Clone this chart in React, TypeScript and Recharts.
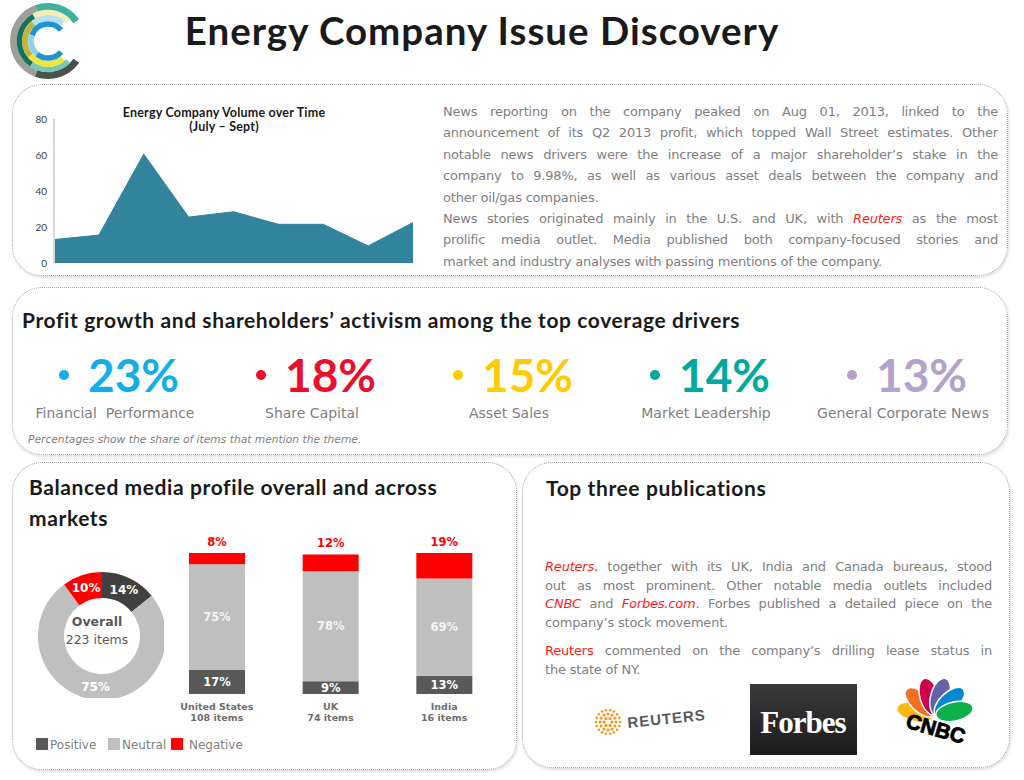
import { Area, AreaChart, Bar, BarChart, Cell, LabelList, Pie, PieChart, XAxis, YAxis } from 'recharts';

// volume over time, July - Sept (x labels are not printed on the original)
const volumePeriods = ['P1', 'P2', 'P3', 'P4', 'P5', 'P6', 'P7', 'P8', 'P9'];
const volumeValues = [13, 15.5, 60.5, 25.5, 28.5, 21.5, 21.5, 9.5, 22.5];
const volumeTicks = [0, 20, 40, 60, 80];

// top coverage drivers
const themeNames = ['Financial  Performance', 'Share Capital', 'Asset Sales', 'Market Leadership', 'General Corporate News'];
const themeShares = [23, 18, 15, 14, 13];
const themeColors = ['#12aee8', '#ea0f2b', '#ffcb05', '#00a99d', '#b3a2c9'];

// sentiment
const sentimentNames = ['Positive', 'Neutral', 'Negative'];
const sentimentColors = ['#404040', '#bfbfbf', '#ff0000'];
const overallShares = [14, 75, 10];
const overallItems = 223;
const markets = ['United States', 'UK', 'India'];
const marketItems = [108, 74, 16];
const positiveShares = [17, 9, 13];
const neutralShares = [75, 78, 69];
const negativeShares = [8, 12, 19];

const volumeData = volumePeriods.map((p, i) => ({ period: p, volume: volumeValues[i] }));
const overallData = sentimentNames.map((n, i) => ({ name: n, value: overallShares[i] }));
const marketData = markets.map((m, i) => ({
  market: m,
  positive: positiveShares[i],
  neutral: neutralShares[i],
  negative: negativeShares[i],
}));

const SANS = 'Verdana, "DejaVu Sans", sans-serif';
const GILL = 'Lato, "Open Sans", sans-serif';
const GREY = '#7f7f7f';
const RADIAN = Math.PI / 180;

const panel = (left: number, top: number, width: number, height: number) => ({
  position: 'absolute' as const,
  left,
  top,
  width,
  height,
  boxSizing: 'border-box' as const,
  border: '1px dotted #a6a6a6',
  borderRadius: 30,
  boxShadow: '1px 2px 3px rgba(0,0,0,0.12)',
});

// little helper for the logo rings
const arc = (cx: number, cy: number, r: number, a0: number, a1: number) => {
  const p = (a: number) => [cx + r * Math.cos(a * RADIAN), cy - r * Math.sin(a * RADIAN)];
  const [x0, y0] = p(a0);
  const [x1, y1] = p(a1);
  return `M${x0} ${y0} A${r} ${r} 0 ${a1 - a0 > 180 ? 1 : 0} 0 ${x1} ${y1}`;
};

const logoRings: [number, number, [number, number, string][]][] = [
  [34.5, 7, [[35, 110, '#3db0a2'], [110, 250, '#9e9f98'], [250, 325, '#46544a']]],
  [28.5, 5.5, [[45, 120, '#f3eeb3'], [120, 235, '#14705f'], [235, 315, '#74c7be']]],
  [23, 6, [[50, 130, '#b8e0ef'], [130, 220, '#c1b43c'], [220, 310, '#f1e43d']]],
  [17, 5.5, [[40, 160, '#1e94d2'], [160, 230, '#8fd0ec'], [230, 320, '#1e94d2']]],
];

const feathers = [
  [-78, '#fcb711'],
  [-47, '#f37021'],
  [-16, '#cc004c'],
  [15, '#6460aa'],
  [46, '#0089d0'],
  [77, '#0db14b'],
] as const;

function Line({ children, last = false }: { children: any; last?: boolean }) {
  return (
    <div style={{ textAlign: 'justify', textAlignLast: last ? 'left' : 'justify' }}>{children}</div>
  );
}

const red = (t: string, italic = true) => (
  <span style={{ color: '#ff1a1a', fontStyle: italic ? 'italic' : 'normal' }}>{t}</span>
);

const DonutLabel = (props: any) => {
  const { cx, cy, midAngle, innerRadius, outerRadius, value } = props;
  const r = (innerRadius + outerRadius) / 2;
  const x = cx + r * Math.cos(-midAngle * RADIAN);
  const y = cy + r * Math.sin(-midAngle * RADIAN);
  return (
    <text x={x} y={y + 4} textAnchor="middle" fill="#fff" fontFamily={SANS} fontWeight="bold" fontSize={12}>
      {`${value}%`}
    </text>
  );
};

const insideLabel = (color: string) => (p: any) => (
  <text
    x={p.x + p.width / 2}
    y={p.y + p.height / 2 + 4}
    textAnchor="middle"
    fill={color}
    fontFamily={SANS}
    fontWeight="bold"
    fontSize={11.5}
  >
    {`${p.value}%`}
  </text>
);

const topLabel = (p: any) => (
  <text x={p.x + p.width / 2} y={p.y - 7} textAnchor="middle" fill="#ff0000" fontFamily={SANS} fontWeight="bold" fontSize={11.5}>
    {`${p.value}%`}
  </text>
);

const MarketTick = (props: any) => {
  const { x, y, payload } = props;
  const i = markets.indexOf(payload.value);
  return (
    <text x={x} y={y} textAnchor="middle" fill="#6d6d6d" fontFamily={SANS} fontWeight="bold" fontSize={9.5}>
      <tspan x={x} dy={16}>{payload.value}</tspan>
      <tspan x={x} dy={11}>{`${marketItems[i]} items`}</tspan>
    </text>
  );
};

export default function App() {
  return (
    <div style={{ position: 'absolute', left: 0, top: 0, width: 1024, height: 780, background: '#fff', overflow: 'hidden' }}>
      <div style={panel(12, 84, 996, 192)} />
      <div style={panel(12, 287, 996, 168)} />
      <div style={panel(12, 462, 505, 308)} />
      <div style={panel(522, 462, 488, 306)} />

      {/* decoration + headings */}
      <svg width={1024} height={780} style={{ position: 'absolute', left: 0, top: 0 }}>
        {logoRings.map(([r, w, segs], k) =>
          segs.map(([a0, a1, c], j) => (
            <path key={`${k}-${j}`} d={arc(48, 41, r, a0, a1)} stroke={c} strokeWidth={w} fill="none" />
          ))
        )}
        <text x={482} y={45} textAnchor="middle" fontFamily={GILL} fontWeight="bold" fontSize={38.5} letterSpacing={1} fill="#1a1a1a">
          Energy Company Issue Discovery
        </text>

        <text x={224} y={117} textAnchor="middle" fontFamily={GILL} fontWeight="bold" fontSize={12.5} letterSpacing={0.2} fill="#1a1a1a">
          Energy Company Volume over Time
        </text>
        <text x={224} y={131} textAnchor="middle" fontFamily={GILL} fontWeight="bold" fontSize={12.5} letterSpacing={0.2} fill="#1a1a1a">
          (July – Sept)
        </text>

        <text x={22} y={328} fontFamily={GILL} fontWeight="bold" fontSize={21} letterSpacing={0.6} fill="#1a1a1a">
          Profit growth and shareholders’ activism among the top coverage drivers
        </text>
        {themeNames.map((n, i) => {
          const c = 115 + 197 * i;
          return (
            <g key={n}>
              <circle cx={c - 51} cy={375} r={5} fill={themeColors[i]} />
              <text x={c - 27} y={392} fontFamily={GILL} fontSize={46} fontWeight="bold" fill={themeColors[i]}>
                {`${themeShares[i]}%`}
              </text>
              <text x={c} y={418} textAnchor="middle" fontFamily={SANS} fontSize={14} fill={GREY} style={{ whiteSpace: 'pre' }}>
                {n}
              </text>
            </g>
          );
        })}
        <text x={28} y={443} fontFamily={SANS} fontStyle="italic" fontSize={10.7} fill={GREY}>
          Percentages show the share of items that mention the theme.
        </text>

        <text x={29} y={495} fontFamily={GILL} fontWeight="bold" fontSize={21} letterSpacing={0.6} fill="#1a1a1a">
          Balanced media profile overall and across
        </text>
        <text x={29} y={526} fontFamily={GILL} fontWeight="bold" fontSize={21} letterSpacing={0.6} fill="#1a1a1a">
          markets
        </text>
        <text x={546} y={496} fontFamily={GILL} fontWeight="bold" fontSize={21} letterSpacing={0.6} fill="#1a1a1a">
          Top three publications
        </text>

        {/* donut centre */}
        <text x={97} y={626} textAnchor="middle" fontFamily={SANS} fontWeight="bold" fontSize={12.5} fill="#595959">
          Overall
        </text>
        <text x={97} y={644} textAnchor="middle" fontFamily={SANS} fontSize={12.5} fill="#595959">
          {`${overallItems} items`}
        </text>

        {/* legend */}
        {sentimentNames.map((n, i) => {
          const x = [36, 108, 171][i];
          return (
            <g key={n}>
              <rect x={x} y={738} width={12} height={12} fill={i === 0 ? '#595959' : sentimentColors[i]} />
              <text x={x + (i === 2 ? 18 : 14)} y={749} fontFamily={SANS} fontSize={12} fill={GREY}>
                {n}
              </text>
            </g>
          );
        })}

        {/* reuters */}
        {[
          [4, 6, 1.6],
          [8, 12, 1.5],
          [12, 18, 1.3],
        ].map(([r, n, d]) =>
          Array.from({ length: n }, (_, k) => (
            <circle
              key={`${r}-${k}`}
              cx={608 + r * Math.cos((k * 360) / n * RADIAN)}
              cy={722 + r * Math.sin((k * 360) / n * RADIAN)}
              r={d}
              fill="#f7941d"
            />
          ))
        )}
        <text x={628} y={728} transform="rotate(-6 628 728)" fontFamily='"Liberation Sans", Arial, sans-serif' fontWeight="bold" fontSize={15} letterSpacing={1} fill="#5a5a5a">
          REUTERS
        </text>

        {/* forbes */}
        <defs>
          <linearGradient id="forbesBg" x1="0" y1="0" x2="0" y2="1">
            <stop offset="0%" stopColor="#3a3a3a" />
            <stop offset="100%" stopColor="#1c1c1c" />
          </linearGradient>
        </defs>
        <rect x={750} y={684} width={107} height={71} fill="url(#forbesBg)" />
        <text x={803} y={733} textAnchor="middle" fontFamily='"Liberation Serif", serif' fontWeight="bold" fontSize={31} letterSpacing={-1} fill="#fff">
          Forbes
        </text>

        {/* cnbc */}
        {feathers.map(([a, c]) => (
          <ellipse key={c} cx={935} cy={696} rx={9.5} ry={19} fill={c} stroke="#fff" strokeWidth={1.5} transform={`rotate(${a} 935 716)`} />
        ))}
        <text x={936} y={736} transform="rotate(16 936 728)" textAnchor="middle" fontFamily='"Liberation Sans", Arial, sans-serif' fontWeight="bold" fontSize={21} fill="#000" stroke="#000" strokeWidth={0.8}>
          CNBC
        </text>
      </svg>

      {/* volume chart */}
      <div style={{ position: 'absolute', left: 14, top: 100 }}>
        <AreaChart width={410} height={170} data={volumeData} margin={{ top: 19, right: 11, bottom: 7, left: 0 }}>
          <XAxis dataKey="period" hide />
          <YAxis
            width={40}
            domain={[0, 80]}
            ticks={volumeTicks}
            axisLine={{ stroke: '#d9d9d9', strokeWidth: 2 }}
            tickLine={false}
            tickSize={0}
            tickMargin={7}
            tick={{ fill: '#404040', fontSize: 10, fontFamily: GILL }}
          />
          <Area type="linear" dataKey="volume" stroke="#31849b" fill="#31849b" fillOpacity={1} isAnimationActive={false} dot={false} activeDot={false} />
        </AreaChart>
      </div>

      {/* top paragraph */}
      <div style={{ position: 'absolute', left: 443, top: 101, width: 555, fontFamily: SANS, fontSize: 13, lineHeight: '21.4px', color: GREY, letterSpacing: -0.2 }}>
        <Line>News reporting on the company peaked on Aug 01, 2013, linked to the</Line>
        <Line>announcement of its Q2 2013 profit, which topped Wall Street estimates. Other</Line>
        <Line>notable news drivers were the increase of a major shareholder’s stake in the</Line>
        <Line>company to 9.98%, as well as various asset deals between the company and</Line>
        <Line last>other oil/gas companies.</Line>
        <Line>News stories originated mainly in the U.S. and UK, with {red('Reuters')} as the most</Line>
        <Line>prolific media outlet. Media published both company-focused stories and</Line>
        <Line last>market and industry analyses with passing mentions of the company.</Line>
      </div>

      {/* overall donut */}
      <div style={{ position: 'absolute', left: 30, top: 564 }}>
        <PieChart width={134} height={134}>
          <Pie
            data={overallData}
            dataKey="value"
            cx={67}
            cy={67}
            innerRadius={38}
            outerRadius={64}
            startAngle={90}
            endAngle={-270}
            stroke="none"
            label={DonutLabel}
            labelLine={false}
            isAnimationActive={false}
          >
            {overallData.map((d, i) => (
              <Cell key={d.name} fill={sentimentColors[i]} />
            ))}
          </Pie>
        </PieChart>
      </div>

      {/* markets */}
      <div style={{ position: 'absolute', left: 160, top: 530 }}>
        <BarChart width={341} height={200} data={marketData} margin={{ top: 23, right: 0, bottom: 0, left: 0 }}>
          <XAxis dataKey="market" axisLine={false} tickLine={false} tickSize={0} tickMargin={0} height={36} interval={0} tick={<MarketTick />} />
          <YAxis hide domain={[0, 100]} allowDataOverflow />
          <Bar dataKey="positive" stackId="s" fill="#595959" barSize={56} isAnimationActive={false}>
            <LabelList dataKey="positive" content={insideLabel('#ffffff')} />
          </Bar>
          <Bar dataKey="neutral" stackId="s" fill="#bfbfbf" barSize={56} isAnimationActive={false}>
            <LabelList dataKey="neutral" content={insideLabel('#f4f4f4')} />
          </Bar>
          <Bar dataKey="negative" stackId="s" fill="#ff0000" barSize={56} isAnimationActive={false}>
            <LabelList dataKey="negative" content={topLabel} />
          </Bar>
        </BarChart>
      </div>

      {/* publications text */}
      <div style={{ position: 'absolute', left: 545, top: 558, width: 447, fontFamily: SANS, fontSize: 13, lineHeight: '18.5px', color: GREY, letterSpacing: -0.2 }}>
        <Line>{red('Reuters')}, together with its UK, India and Canada bureaus, stood</Line>
        <Line>out as most prominent. Other notable media outlets included</Line>
        <Line>{red('CNBC')} and {red('Forbes.com')}. Forbes published a detailed piece on the</Line>
        <Line last>company’s stock movement.</Line>
        <div style={{ height: 10 }} />
        <Line>{red('Reuters', false)} commented on the company’s drilling lease status in</Line>
        <Line last>the state of NY.</Line>
      </div>
    </div>
  );
}
